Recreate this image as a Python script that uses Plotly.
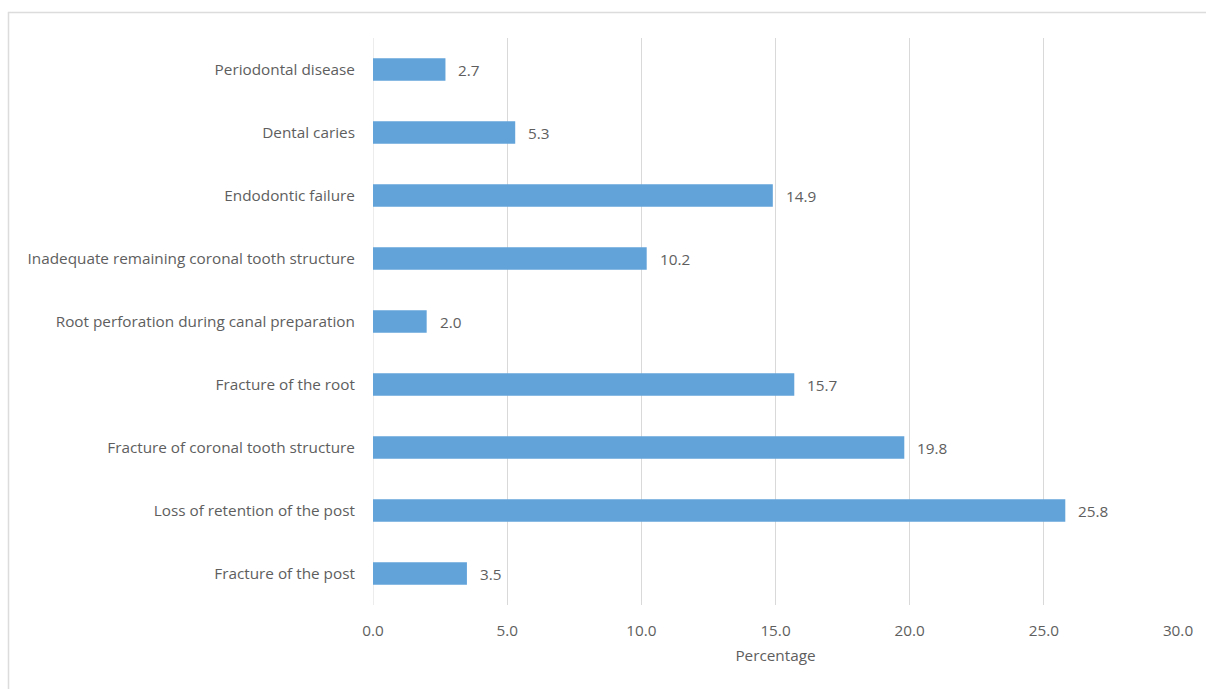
import plotly.graph_objects as go

# Causes listed bottom-to-top, as they stack on the category axis
causes = [
    "Fracture of the post",
    "Loss of retention of the post",
    "Fracture of coronal tooth structure",
    "Fracture of the root",
    "Root perforation during canal preparation",
    "Inadequate remaining coronal tooth structure",
    "Endodontic failure",
    "Dental caries",
    "Periodontal disease",
]
percentages = [3.5, 25.8, 19.8, 15.7, 2.0, 10.2, 14.9, 5.3, 2.7]
x_ticks = [0, 5, 10, 15, 20, 25, 30]

TEXT = "#5e5e5e"
GRID = "#d9d9d9"
FONT = "'Open Sans', Lato, sans-serif"
FS = 15.3

W, H = 1206, 689
L, R, T, B = 373, 28, 38, 84
pw, ph = W - L - R, H - T - B

fig = go.Figure(
    go.Bar(
        x=percentages,
        y=causes,
        orientation="h",
        width=0.36,
        marker=dict(color="#62a3da", line=dict(width=0)),
        hoverinfo="x+y",
    )
)

# value labels to the right of each bar
for c, v in zip(causes, percentages):
    fig.add_annotation(
        x=v, y=c, text=f"{v:.1f}", showarrow=False,
        xanchor="left", yanchor="middle", xshift=11,
        font=dict(family=FONT, size=FS, color=TEXT),
    )

# light frame around the chart area
def px_to_paper_x(p):
    return (p - L) / pw

def px_to_paper_y(p):
    return (H - B - p) / ph

fig.add_shape(
    type="rect", xref="paper", yref="paper",
    x0=px_to_paper_x(8.5), x1=px_to_paper_x(1212),
    y0=px_to_paper_y(700), y1=px_to_paper_y(12.5),
    line=dict(color="#dcdcdc", width=1.5), fillcolor="rgba(0,0,0,0)",
    layer="below",
)

fig.update_layout(
    width=W, height=H,
    margin=dict(l=L, r=R, t=T, b=B),
    paper_bgcolor="white",
    plot_bgcolor="white",
    showlegend=False,
    bargap=0.64,
    font=dict(family=FONT, size=FS, color=TEXT),
    xaxis=dict(
        range=[0, 30],
        tickvals=x_ticks,
        tickformat=".1f",
        showgrid=True, gridcolor=GRID, gridwidth=1,
        zeroline=False,
        showline=False,
        ticks="outside", ticklen=12, tickcolor="rgba(0,0,0,0)",
        tickfont=dict(family=FONT, size=FS, color=TEXT),
        title=dict(text="Percentage", standoff=10,
                   font=dict(family=FONT, size=FS, color=TEXT)),
        fixedrange=True,
    ),
    yaxis=dict(
        categoryorder="array", categoryarray=causes,
        range=[-0.5, len(causes) - 0.5],
        showgrid=False, zeroline=False,
        showline=False,
        ticks="outside", ticklen=14, tickcolor="rgba(0,0,0,0)",
        tickfont=dict(family=FONT, size=FS, color=TEXT),
        fixedrange=True,
    ),
)

# category axis line at zero, drawn in the grid colour
fig.add_shape(
    type="line", xref="x", yref="paper", x0=0, x1=0, y0=0, y1=1,
    line=dict(color=GRID, width=1), layer="below",
)

fig.write_html("out.html")
